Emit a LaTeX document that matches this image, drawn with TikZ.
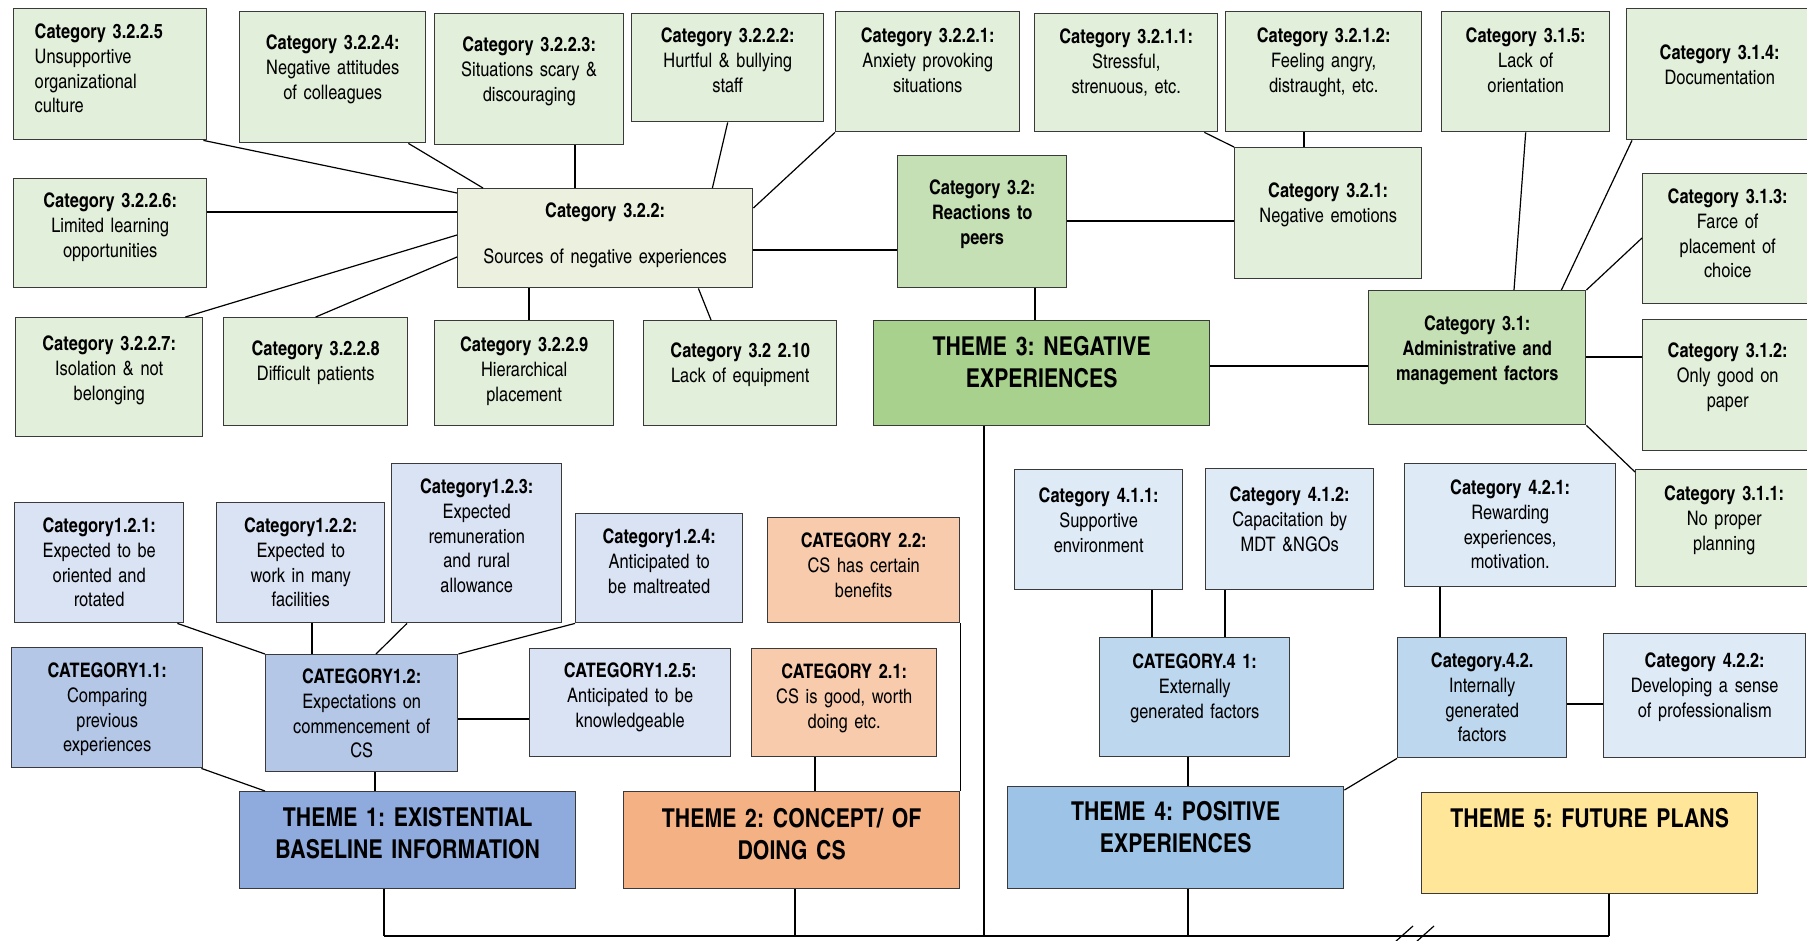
\documentclass[tikz,border=0pt]{standalone}
\usepackage{fontspec}
\setmainfont{texgyreheroscn}[Extension=.otf, UprightFont=*-regular, BoldFont=*-bold, ItalicFont=*-italic, BoldItalicFont=*-bolditalic]
\frenchspacing
\definecolor{leafgreen}{HTML}{E2EFDA}
\definecolor{palegreen}{HTML}{EBF1DE}
\definecolor{midgreen}{HTML}{C5E0B4}
\definecolor{themegreen}{HTML}{A9D18E}
\definecolor{leafblue}{HTML}{DAE3F3}
\definecolor{midblue}{HTML}{B4C7E7}
\definecolor{themeblue}{HTML}{8FAADC}
\definecolor{leaforange}{HTML}{F8CBAD}
\definecolor{themeorange}{HTML}{F4B183}
\definecolor{leafsky}{HTML}{DEEBF7}
\definecolor{midsky}{HTML}{BDD7EE}
\definecolor{themesky}{HTML}{9DC3E6}
\definecolor{themeyellow}{HTML}{FFE699}
\definecolor{boxline}{HTML}{3A3A3A}
\newcommand{\catfont}{\fontsize{20}{24.7}\selectfont}
\newcommand{\themefont}{\fontsize{26}{32}\selectfont\bfseries}
\tikzset{
  box/.style={draw=boxline, line width=1.4pt, inner sep=0pt, anchor=north west, align=center, font=\catfont},
  boxsize/.code n args={3}{\pgfmathsetmacro\boxdp{#2-#3}\tikzset{text width=#1pt, text height=#3pt, text depth/.expanded=\boxdp pt}},
  leaf/.style={box, fill=leafgreen},
  theme/.style={box, font=\themefont},
  link/.style={line width=1.2pt}
}
\begin{document}
\begin{tikzpicture}[x=1pt, y=-1pt]
\useasboundingbox (0,0) rectangle (1807,940);

% theme 3, top half
\node[leaf, boxsize={151}{131}{30}, align=left, inner xsep=21pt] (n3225) at (13,8) {\textbf{Category 3.2.2.5}\\Unsupportive\\organizational\\culture};
\node[leaf, boxsize={186}{131}{38}] (n3224) at (239,11) {\textbf{Category 3.2.2.4:}\\Negative attitudes\\of colleagues};
\node[leaf, boxsize={189}{131}{38}] (n3223) at (434,13) {\textbf{Category 3.2.2.3:}\\Situations scary \&\\discouraging};
\node[leaf, boxsize={192}{108}{29}] (n3222) at (631,13) {\textbf{Category 3.2.2.2:}\\Hurtful \& bullying\\staff};
\node[leaf, boxsize={184}{120}{31}] (n3221) at (835,11) {\textbf{Category 3.2.2.1:}\\Anxiety provoking\\situations};
\node[leaf, boxsize={183}{118}{30}] (n3211) at (1034,13) {\textbf{Category 3.2.1.1:}\\Stressful,\\strenuous, etc.};
\node[leaf, boxsize={196}{120}{31}] (n3212) at (1225,11) {\textbf{Category 3.2.1.2:}\\Feeling angry,\\distraught, etc.};
\node[leaf, boxsize={168}{120}{31}] (n315) at (1441,11) {\textbf{Category 3.1.5:}\\Lack of\\orientation};
\node[leaf, boxsize={186}{131}{51}] (n314) at (1626,8) {\textbf{Category 3.1.4:}\\Documentation};
\node[leaf, boxsize={193}{109}{29}] (n3226) at (13,178) {\textbf{Category 3.2.2.6:}\\Limited learning\\opportunities};
\node[box, fill=palegreen, boxsize={295}{99}{29}] (n322) at (457,188) {\textbf{Category 3.2.2:}\\[21pt]Sources of negative experiences};
\node[box, fill=midgreen, boxsize={169}{132}{39}] (n32) at (897,155) {\bfseries Category 3.2:\\Reactions to\\peers};
\node[leaf, boxsize={187}{131}{50}] (n321) at (1234,147) {\textbf{Category 3.2.1:}\\Negative emotions};
\node[leaf, boxsize={170}{130}{30}] (n313) at (1642,173) {\textbf{Category 3.1.3:}\\Farce of\\placement of\\choice};
\node[leaf, boxsize={187}{119}{33}] (n3227) at (15,317) {\textbf{Category 3.2.2.7:}\\Isolation \& not\\belonging};
\node[leaf, boxsize={184}{108}{38}] (n3228) at (223,317) {\textbf{Category 3.2.2.8}\\Difficult patients};
\node[leaf, boxsize={179}{105}{31}] (n3229) at (434,320) {\textbf{Category 3.2.2.9}\\Hierarchical\\placement};
\node[leaf, boxsize={193}{105}{37}] (n32210) at (643,320) {\textbf{Category 3.2 2.10}\\Lack of equipment};
\node[theme, fill=themegreen, boxsize={336}{105}{35}] (t3) at (873,320) {THEME 3: NEGATIVE\\EXPERIENCES};
\node[box, fill=midgreen, boxsize={217}{134}{40}] (n31) at (1368,290) {\bfseries Category 3.1:\\Administrative and\\management factors};
\node[leaf, boxsize={170}{131}{38}] (n312) at (1642,319) {\textbf{Category 3.1.2:}\\Only good on\\paper};
\node[leaf, boxsize={177}{117}{31}] (n311) at (1635,469) {\textbf{Category 3.1.1:}\\No proper\\planning};

% theme 1
\node[box, fill=leafblue, boxsize={169}{120}{30}] (n121) at (14,502) {\textbf{Category1.2.1:}\\Expected to be\\oriented and\\rotated};
\node[box, fill=leafblue, boxsize={168}{120}{30}] (n122) at (216,502) {\textbf{Category1.2.2:}\\Expected to\\work in many\\facilities};
\node[box, fill=leafblue, boxsize={170}{159}{30}] (n123) at (391,463) {\textbf{Category1.2.3:}\\Expected\\remuneration\\and rural\\allowance};
\node[box, fill=leafblue, boxsize={167}{109}{30}] (n124) at (575,513) {\textbf{Category1.2.4:}\\Anticipated to\\be maltreated};
\node[box, fill=midblue, boxsize={191}{120}{30}] (n11) at (11,647) {\textbf{CATEGORY1.1:}\\Comparing\\previous\\experiences};
\node[box, fill=midblue, boxsize={192}{117}{29}] (n12) at (265,654) {\textbf{CATEGORY1.2:}\\Expectations on\\commencement of\\CS};
\node[box, fill=leafblue, boxsize={201}{108}{29}] (n125) at (529,648) {\textbf{CATEGORY1.2.5:}\\Anticipated to be\\knowledgeable};
\node[theme, fill=themeblue, boxsize={336}{97}{35}] (t1) at (239,791) {THEME 1: EXISTENTIAL\\BASELINE INFORMATION};

% theme 2
\node[box, fill=leaforange, boxsize={192}{105}{30}] (n22) at (767,517) {\textbf{CATEGORY 2.2:}\\CS has certain\\benefits};
\node[box, fill=leaforange, boxsize={185}{108}{30}] (n21) at (751,648) {\textbf{CATEGORY 2.1:}\\CS is good, worth\\doing etc.};
\node[theme, fill=themeorange, boxsize={336}{97}{36}] (t2) at (623,791) {THEME 2: CONCEPT/ OF\\DOING CS};

% theme 4 and 5
\node[box, fill=leafsky, boxsize={168}{120}{33}] (n411) at (1014,469) {\textbf{Category 4.1.1:}\\Supportive\\environment};
\node[box, fill=leafsky, boxsize={168}{121}{33}] (n412) at (1205,468) {\textbf{Category 4.1.2:}\\Capacitation by\\MDT \&NGOs};
\node[box, fill=leafsky, boxsize={211}{123}{31}] (n421) at (1404,463) {\textbf{Category 4.2.1:}\\Rewarding\\experiences,\\motivation.};
\node[box, fill=midsky, boxsize={190}{119}{31}] (n41) at (1099,637) {\textbf{CATEGORY.4 1:}\\Externally\\generated factors};
\node[box, fill=midsky, boxsize={169}{120}{30}] (n42) at (1397,637) {\textbf{Category.4.2.}\\Internally\\generated\\factors};
\node[box, fill=leafsky, boxsize={202}{124}{34}] (n422) at (1603,633) {\textbf{Category 4.2.2:}\\Developing a sense\\of professionalism};
\node[theme, fill=themesky, boxsize={336}{102}{34}] (t4) at (1007,786) {THEME 4: POSITIVE\\EXPERIENCES};
\node[theme, fill=themeyellow, boxsize={336}{101}{35}] (t5) at (1421,792) {THEME 5: FUTURE PLANS};

% bottom bar
\coordinate (bar1) at (384,936);
\coordinate (bar2) at (795,936);
\coordinate (bar3) at (984,936);
\coordinate (bar4) at (1188,936);
\coordinate (bar5) at (1609,936);

% links around category 3.2.2
\draw[link] ([xshift=-4pt]n3225.south east) -- ([yshift=-5pt]n322.north west);
\draw[link] ([xshift=-18pt]n3224.south east) -- ([xshift=26pt]n322.north west);
\draw[link] ([xshift=141pt]n3223.south west) -- ([xshift=118pt]n322.north west);
\draw[link] (n3222.south) -- ([xshift=-41pt]n322.north east);
\draw[link] (n3221.south west) -- ([yshift=-20pt]n322.north east);
\draw[link] ([yshift=-34pt]n3226.north east) -- ([yshift=-24pt]n322.north west);
\draw[link] ([xshift=-18pt]n3227.north east) -- ([yshift=-47pt]n322.north west);
\draw[link] (n3228.north) -- ([yshift=-69pt]n322.north west);
\draw[link] ([xshift=95pt]n3229.north west) -- ([xshift=72pt]n322.south west);
\draw[link] ([xshift=68pt]n32210.north west) -- ([xshift=-55pt]n322.south east);
\draw[link] ([yshift=-62pt]n322.north east) -- ([yshift=-95pt]n32.north west);

% links around category 3.2 and 3.1
\draw[link] ([yshift=-66pt]n32.north east) -- ([yshift=-74pt]n321.north west);
\draw[link] ([xshift=-14pt]n3211.south east) -- (n321.north west);
\draw[link] ([xshift=79pt]n3212.south west) -- ([xshift=70pt]n321.north west);
\draw[link] ([xshift=138pt]n32.south west) -- ([xshift=162pt]t3.north west);
\draw[link] ([yshift=-46pt]t3.north east) -- ([yshift=-76pt]n31.north west);
\draw[link] (n315.south) -- ([xshift=146pt]n31.north west);
\draw[link] ([xshift=6pt]n314.south west) -- ([xshift=-25pt]n31.north east);
\draw[link] ([yshift=-65pt]n313.north west) -- (n31.north east);
\draw[link] ([yshift=-67pt]n31.north east) -- ([yshift=-38pt]n312.north west);
\draw[link] (n31.south east) -- ([yshift=-3pt]n311.north west);

% links of theme 1
\draw[link] ([xshift=-7pt]n121.south east) -- (n12.north west);
\draw[link] ([xshift=96pt]n122.south west) -- ([xshift=47pt]n12.north west);
\draw[link] ([xshift=16pt]n123.south west) -- ([xshift=111pt]n12.north west);
\draw[link] (n124.south west) -- (n12.north east);
\draw[link] ([yshift=-65pt]n12.north east) -- ([yshift=-71pt]n125.north west);
\draw[link] ([xshift=-2pt]n11.south east) -- ([xshift=26pt]t1.north west);
\draw[link] ([xshift=110pt]n12.south west) -- ([xshift=136pt]t1.north west);

% links of theme 2
\draw[link] (n22.south east) -- (t2.north east);
\draw[link] ([xshift=64pt]n21.south west) -- ([xshift=192pt]t2.north west);

% links of theme 4
\draw[link] ([xshift=138pt]n411.south west) -- ([xshift=53pt]n41.north west);
\draw[link] ([xshift=20pt]n412.south west) -- ([xshift=126pt]n41.north west);
\draw[link] ([xshift=89pt]n41.south west) -- ([xshift=181pt]t4.north west);
\draw[link] ([xshift=36pt]n421.south west) -- ([xshift=43pt]n42.north west);
\draw[link] ([yshift=-67pt]n42.north east) -- ([yshift=-71pt]n422.north west);
\draw[link] ([yshift=-4pt]t4.north east) -- (n42.south west);

% themes down to the bar
\draw[link] ([xshift=145pt]t1.south west) -- (bar1);
\draw[link] ([xshift=172pt]t2.south west) -- (bar2);
\draw[line width=1.6pt] ([xshift=111pt]t3.south west) -- (bar3);
\draw[link] ([xshift=181pt]t4.south west) -- (bar4);
\draw[link] ([xshift=188pt]t5.south west) -- (bar5);
\draw[line width=1.6pt] (bar1) -- (bar5);
\draw[link] (1395,942) -- (1413,926);
\draw[link] (1416,942) -- (1434,926);
\end{tikzpicture}
\end{document}
